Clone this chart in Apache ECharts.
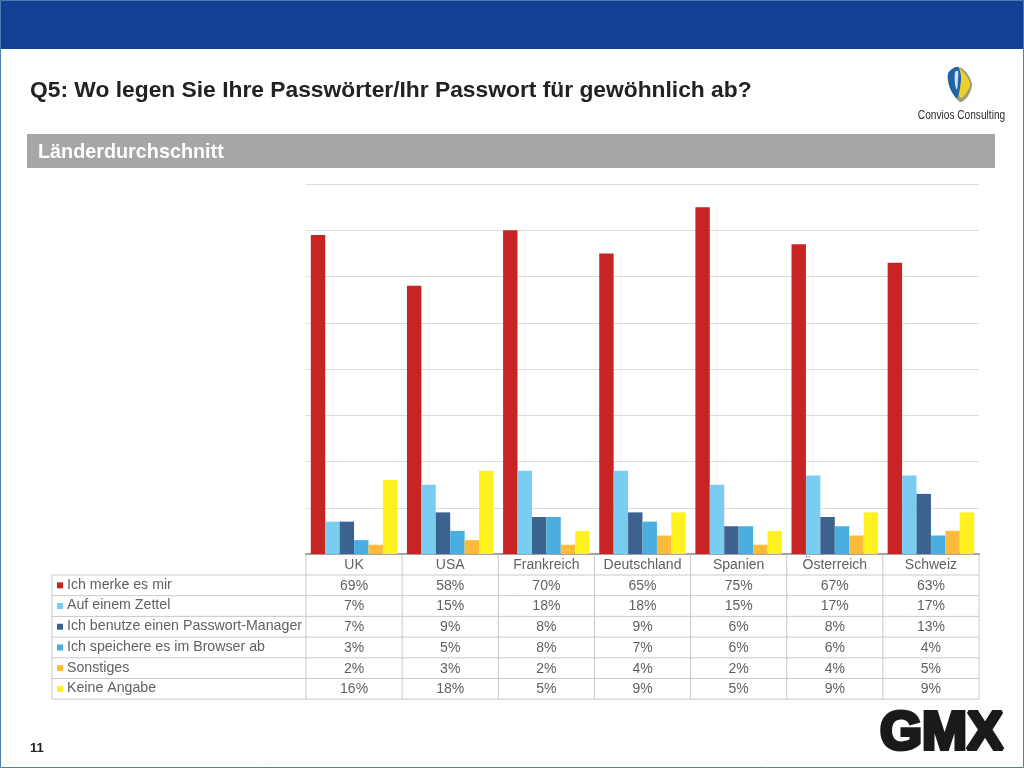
<!DOCTYPE html>
<html>
<head>
<meta charset="utf-8">
<title>Q5</title>
<style>
  html, body { margin: 0; padding: 0; background: #fff; }
  #chart { width: 1024px; height: 768px; }
</style>
<script src="https://cdn.jsdelivr.net/npm/echarts@6/dist/echarts.min.js"></script>
</head>
<body>
<div id="chart"></div>
<script>
const countries = ['UK', 'USA', 'Frankreich', 'Deutschland', 'Spanien', 'Österreich', 'Schweiz'];
const seriesNames = ['Ich merke es mir', 'Auf einem Zettel', 'Ich benutze einen Passwort-Manager', 'Ich speichere es im Browser ab', 'Sonstiges', 'Keine Angabe'];
const seriesColors = ['#c82423', '#7accf0', '#3c628f', '#4aaee0', '#fdbb39', '#fff020'];
const merkeValues = [69, 58, 70, 65, 75, 67, 63];
const zettelValues = [7, 15, 18, 18, 15, 17, 17];
const managerValues = [7, 9, 8, 9, 6, 8, 13];
const browserValues = [3, 5, 8, 7, 6, 6, 4];
const sonstigesValues = [2, 3, 2, 4, 2, 4, 5];
const keineValues = [16, 18, 5, 9, 5, 9, 9];
const allValues = [merkeValues, zettelValues, managerValues, browserValues, sonstigesValues, keineValues];

const FONT = '"Liberation Sans", Arial, sans-serif';
const PLOT_LEFT = 306;
const PLOT_RIGHT = 979;
const PLOT_TOP = 184;
const PLOT_BOTTOM = 554;
const TABLE_LEFT = 52;
const HEADER_BOTTOM = 575;
const ROW_HEIGHT = 20.7;
const LINE_COLOR = '#c9c9c9';
const TEXT_COLOR = '#616161';

const colWidth = (PLOT_RIGHT - PLOT_LEFT) / countries.length;
const tableBottom = HEADER_BOTTOM + ROW_HEIGHT * seriesNames.length;

const line = (x1, y1, x2, y2, color, width) => ({
    type: 'line',
    shape: { x1, y1, x2, y2 },
    style: { stroke: color || LINE_COLOR, lineWidth: width || 1 },
    silent: true
});

const text = (x, y, str, style) => ({
    type: 'text',
    x,
    y,
    silent: true,
    style: Object.assign({ text: str, fontFamily: FONT, fill: TEXT_COLOR, fontSize: 14, textVerticalAlign: 'middle' }, style)
});

const blob = (points, color) => ({
    type: 'polygon',
    silent: true,
    shape: { points, smooth: 0.3 },
    style: { fill: color }
});

// table under the plot, grid lines first, then the texts
const buildTable = () => {
    const items = [];
    for (let r = 0; r <= seriesNames.length; r++) {
        const y = HEADER_BOTTOM + ROW_HEIGHT * r;
        items.push(line(TABLE_LEFT, y, PLOT_RIGHT, y));
    }
    items.push(line(TABLE_LEFT, HEADER_BOTTOM, TABLE_LEFT, tableBottom));
    for (let c = 0; c <= countries.length; c++) {
        const x = PLOT_LEFT + colWidth * c;
        items.push(line(x, PLOT_BOTTOM, x, tableBottom));
    }
    seriesNames.forEach((name, r) => {
        const y = HEADER_BOTTOM + ROW_HEIGHT * (r + 0.5);
        items.push({
            type: 'rect',
            silent: true,
            shape: { x: 57, y: y - 3, width: 6, height: 6 },
            style: { fill: seriesColors[r] }
        });
        items.push(text(67, y - 0.5, name, { fontSize: 14.2 }));
        allValues[r].forEach((v, c) => {
            items.push(text(PLOT_LEFT + colWidth * (c + 0.5), y + 0.5, v + '%', { textAlign: 'center' }));
        });
    });
    return items;
};

// rough redraw of the two logos and the slide frame
const buildSlide = () => [
    { type: 'rect', silent: true, shape: { x: 0, y: 0, width: 1024, height: 49 }, style: { fill: '#144094' } },
    { type: 'rect', silent: true, shape: { x: 0.5, y: 0.5, width: 1023, height: 767 }, style: { fill: 'none', stroke: '#4f7cb0', lineWidth: 1 } },
    { type: 'rect', silent: true, shape: { x: 27, y: 134, width: 968, height: 34 }, style: { fill: '#a6a6a6' } },
    text(30, 91, 'Q5: Wo legen Sie Ihre Passwörter/Ihr Passwort für gewöhnlich ab?', { fontSize: 22.8, fontWeight: 'bold', fill: '#222222' }),
    text(38, 153, 'Länderdurchschnitt', { fontSize: 19.8, fontWeight: 'bold', fill: '#ffffff' }),
    text(30, 748, '11', { fontSize: 13, fontWeight: 'bold', fill: '#222222' }),
    blob([[948, 74], [950, 88], [960, 102], [968, 96], [972, 84], [966, 72], [958, 67]], '#9a9f78'),
    blob([[953, 76], [955, 88], [961, 98], [967, 92], [970, 84], [965, 74], [958, 68]], '#f0cf2a'),
    blob([[948, 74], [950, 88], [957, 98], [960, 88], [961, 76], [958, 67], [952, 69]], '#1f62a8'),
    blob([[955, 72], [955, 84], [957, 90], [958, 80], [958, 71]], '#cfe0ee'),
    Object.assign(text(961.5, 115.5, 'Convios Consulting', { fontSize: 13, textAlign: 'center', fill: '#2b2b2b' }), { scaleX: 0.78 }),
    text(941.5, 734.5, 'GMX', { fontSize: 54, fontWeight: 900, textAlign: 'center', fill: '#1a1a1a', stroke: '#1a1a1a', lineWidth: 4 })
];

const chart = echarts.init(document.getElementById('chart'), null, { renderer: 'canvas' });

chart.setOption({
    animation: false,
    backgroundColor: '#ffffff',
    legend: { show: false },
    grid: { left: PLOT_LEFT, top: PLOT_TOP, width: PLOT_RIGHT - PLOT_LEFT, height: PLOT_BOTTOM - PLOT_TOP },
    xAxis: {
        type: 'category',
        data: countries,
        axisTick: { show: false },
        axisLine: { lineStyle: { color: '#a3a3a3', width: 2 } },
        axisLabel: { color: TEXT_COLOR, fontFamily: FONT, fontSize: 14, margin: 4, interval: 0 }
    },
    yAxis: {
        type: 'value',
        min: 0,
        max: 80,
        interval: 10,
        axisLabel: { show: false },
        axisLine: { show: false },
        axisTick: { show: false },
        splitLine: { lineStyle: { color: '#dcdcdc', width: 1 } }
    },
    series: seriesNames.map((name, i) => ({
        name,
        type: 'bar',
        data: allValues[i],
        barGap: 0,
        barCategoryGap: '10%',
        itemStyle: { color: seriesColors[i] }
    })),
    graphic: { elements: buildSlide().concat(buildTable()) }
});
</script>
</body>
</html>
